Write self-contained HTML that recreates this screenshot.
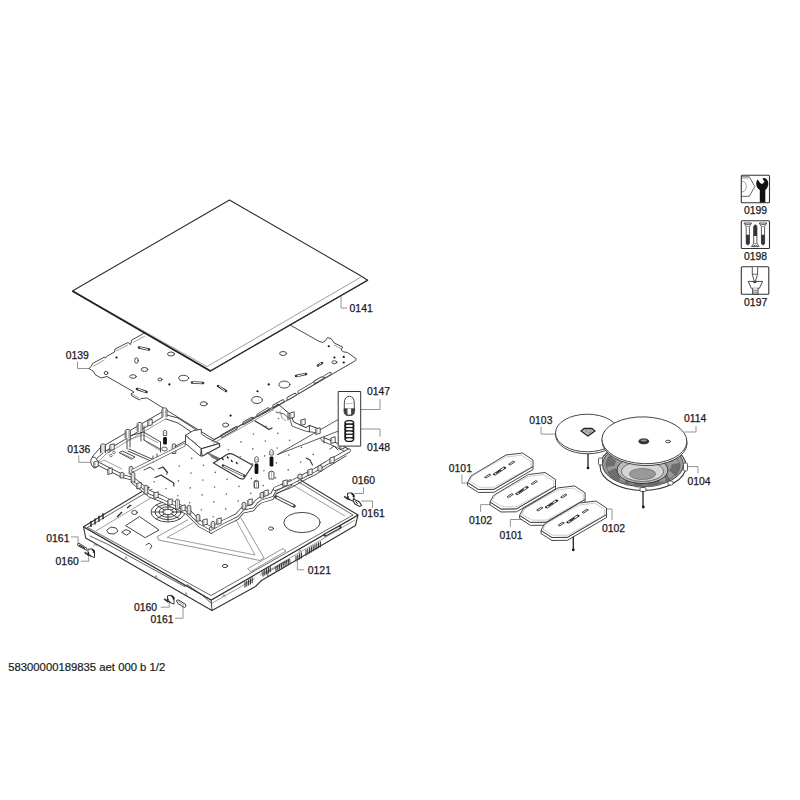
<!DOCTYPE html>
<html><head><meta charset="utf-8"><style>
html,body{margin:0;padding:0;background:#fff;width:800px;height:800px;overflow:hidden}
svg{position:absolute;left:0;top:0}
.lbl text{font-family:"Liberation Sans",sans-serif;font-size:10.4px;fill:#1a1a1a;stroke:#1a1a1a;stroke-width:0.25px}
.foot{font-family:"Liberation Sans",sans-serif;font-size:11.3px;fill:#1a1a1a;stroke:#1a1a1a;stroke-width:0.2px}
.ldr path{fill:none;stroke:#888;stroke-width:0.9}
.ln{fill:none;stroke:#333;stroke-width:0.9;stroke-linejoin:round;stroke-linecap:round}
.lt{fill:none;stroke:#777;stroke-width:0.7;stroke-linejoin:round}
.th{fill:none;stroke:#222;stroke-width:1.3;stroke-linejoin:round}
.fw{fill:#fff;stroke:#333;stroke-width:0.9;stroke-linejoin:round}
.fb{fill:#111;stroke:none}
</style></head><body>
<svg width="800" height="800" viewBox="0 0 800 800">
<g class="lbl"><text x="349.6" y="312.0">0141</text><text x="65.7" y="358.9">0139</text><text x="67.2" y="452.5">0136</text><text x="366.9" y="395.2">0147</text><text x="367.0" y="450.5">0148</text><text x="351.9" y="483.9">0160</text><text x="361.6" y="516.7">0161</text><text x="46.3" y="541.5">0161</text><text x="55.6" y="565.0">0160</text><text x="307.8" y="573.7">0121</text><text x="134.0" y="611.4">0160</text><text x="150.5" y="622.5">0161</text><text x="529.3" y="423.8">0103</text><text x="684.0" y="421.7">0114</text><text x="448.8" y="471.6">0101</text><text x="687.4" y="485.1">0104</text><text x="468.9" y="524.1">0102</text><text x="499.5" y="538.6">0101</text><text x="602.0" y="532.1">0102</text><text x="744.0" y="214.3">0199</text><text x="744.0" y="260.1">0198</text><text x="744.1" y="305.6">0197</text></g>
<text x="8.2" y="670.5" class="foot">58300000189835 aet 000 b 1/2</text>
<g class="ldr"><path class="ln" d="M341.0,297.0 L341.0,308.0 L346.5,308.0" /><path class="ln" d="M77.5,362.0 L77.5,368.5 L89.0,368.5" /><path class="ln" d="M78.8,455.7 L78.8,462.3 L90.0,462.3" /><path class="ln" d="M354.7,409.5 L380.0,409.5 L380.0,399.7" /><path class="ln" d="M354.7,429.0 L380.0,429.0 L380.0,436.3" /><path class="ln" d="M363.5,487.9 L363.5,493.5 L354.7,493.5" /><path class="ln" d="M361.6,501.0 L372.5,501.0 L372.5,507.6" /><path class="ln" d="M71.2,536.9 L78.1,536.9 L78.1,543.7" /><path class="ln" d="M81.2,561.2 L88.7,561.2 L88.7,556.0" /><path class="ln" d="M297.4,561.0 L297.4,569.8 L303.7,569.8" /><path class="ln" d="M161.2,607.2 L169.2,607.2 L169.2,602.5" /><path class="ln" d="M175.5,618.2 L183.0,618.2 L183.0,606.5" /><path class="ln" d="M541.0,427.1 L541.0,434.1 L554.6,434.1" /><path class="ln" d="M685.0,432.0 L696.0,432.0 L696.0,426.4" /><path class="ln" d="M687.0,466.6 L698.0,466.6 L698.0,473.0" /><path class="ln" d="M461.9,474.9 L461.9,483.1 L468.0,483.1" /><path class="ln" d="M489.9,504.6 L480.6,504.6 L480.6,511.6" /><path class="ln" d="M521.4,519.5 L510.4,519.5 L510.4,526.5" /><path class="ln" d="M606.0,509.0 L612.0,509.0 L612.0,519.6" /></g>
<path class="fw" d="M83.5,526.7 L211.2,600.0 L358.0,515.0 L355.5,525.5 L261.5,580.5 L255.5,586.5 L212.0,610.5 L85.7,538.0 Z" style="stroke-width:1.1"/>
<path class="ln" d="M211.2,600.0 L212.0,610.5" />
<path class="fw" d="M83.5,526.7 L231.0,438.0 L358.0,515.0 L211.2,600.0 Z" style="stroke-width:1.1"/>
<path class="ln" d="M87.5,527.5 L232.0,441.5 L353.0,515.0 L211.0,595.5 L87.5,527.5" style="stroke-width:0.75"/>
<path class="lt" d="M96.0,531.0 L232.0,449.0" />
<path class="lt" d="M232.0,449.0 L345.0,516.0" />
<path class="ln" d="M90.0,536.0 L108.0,544.4 L150.0,567.5 L185.0,586.7 L187.0,584.6 L201.6,594.6 L211.5,603.5" style="stroke-width:0.8"/>
<path class="lt" d="M211.5,603.5 L255.0,578.5" />
<path class="lt" d="M262.0,574.5 L355.0,520.0" />
<path class="ln" d="M126.0,525.5 L139.5,516.5 L159.0,530.0 L145.5,537.5 Z" />
<path class="ln" d="M107.0,530.0 L111.0,527.0 L116.0,528.0 L118.0,531.0 L114.0,534.0 L109.0,533.5 Z" />
<path class="ln" d="M122.0,532.0 L126.0,529.5 L131.0,532.0 L127.0,535.0 Z" />
<path class="ln" d="M146.0,545.0 L149.0,543.0 L152.0,546.0 L150.0,549.0" />
<ellipse cx="134.5" cy="512.5" rx="2.8" ry="2" class="ln"/>
<path class="th" d="M117.0,517.0 L122.0,512.0" />
<path class="th" d="M127.0,508.0 L131.0,505.0" />
<ellipse cx="168" cy="512" rx="17" ry="10" class="ln"/>
<ellipse cx="168" cy="512" rx="13" ry="7.6" class="ln"/>
<ellipse cx="168" cy="512" rx="9" ry="5.2" class="ln"/>
<ellipse cx="168" cy="512" rx="5" ry="2.8" class="ln"/>
<path class="ln" d="M172.0,512.0 L184.0,512.0" />
<path class="ln" d="M170.8,513.6 L179.3,518.6" />
<path class="ln" d="M168.0,514.3 L168.0,521.4" />
<path class="ln" d="M165.2,513.6 L156.7,518.6" />
<path class="ln" d="M164.0,512.0 L152.0,512.0" />
<path class="ln" d="M165.2,510.4 L156.7,505.4" />
<path class="ln" d="M168.0,509.7 L168.0,502.6" />
<path class="ln" d="M170.8,510.4 L179.3,505.4" />
<ellipse cx="302" cy="522.5" rx="18.2" ry="10.1" class="ln"/>
<ellipse cx="271" cy="528.5" rx="2.5" ry="1.6" class="ln"/>
<ellipse cx="225" cy="566" rx="2.6" ry="1.6" class="ln"/>
<path class="ln" d="M187.5,520.0 L157.5,536.5 L158.5,540.0 L260.0,560.5 L264.0,558.0 L241.0,518.0" style="stroke-width:0.7;stroke:#666"/>
<path class="lt" d="M193.0,523.0 L167.0,537.5 L255.0,555.0 L236.0,520.0" />
<path class="ln" d="M248.0,568.5 L283.0,548.5 L286.0,551.0 L251.0,571.5 Z" style="stroke-width:0.7;stroke:#666"/>
<path class="ln" d="M276.0,497.0 L294.0,506.0" style="stroke-width:3.5"/>
<path class="ln" d="M277.0,497.5 L293.0,505.5" style="stroke:#fff;stroke-width:1.6"/>
<path class="ln" d="M325.0,535.0 L340.0,527.0" style="stroke-width:3.2"/>
<path class="ln" d="M326.0,534.5 L339.0,527.5" style="stroke:#fff;stroke-width:1.4"/>
<path class="th" d="M91.0,527.0 L91.0,521.0" style="stroke-width:1.4"/>
<path class="th" d="M95.0,524.4 L95.0,518.4" style="stroke-width:1.4"/>
<path class="th" d="M99.0,521.8 L99.0,515.8" style="stroke-width:1.4"/>
<path class="th" d="M103.0,519.2 L103.0,513.2" style="stroke-width:1.4"/>
<path class="ln" d="M245.0,582.0 L245.0,587.0" style="stroke-width:1.1"/>
<path class="ln" d="M246.8,581.0 L246.8,586.0" style="stroke-width:1.1"/>
<path class="ln" d="M248.6,579.9 L248.6,584.9" style="stroke-width:1.1"/>
<path class="ln" d="M250.4,578.9 L250.4,583.9" style="stroke-width:1.1"/>
<path class="ln" d="M252.2,577.8 L252.2,582.8" style="stroke-width:1.1"/>
<path class="ln" d="M263.0,571.0 L263.0,576.0" style="stroke-width:1.1"/>
<path class="ln" d="M264.8,570.0 L264.8,575.0" style="stroke-width:1.1"/>
<path class="ln" d="M266.6,568.9 L266.6,573.9" style="stroke-width:1.1"/>
<path class="ln" d="M268.4,567.9 L268.4,572.9" style="stroke-width:1.1"/>
<path class="ln" d="M270.2,566.8 L270.2,571.8" style="stroke-width:1.1"/>
<path class="ln" d="M276.0,566.5 L276.0,570.5" style="stroke-width:1.1"/>
<path class="ln" d="M277.8,565.5 L277.8,569.5" style="stroke-width:1.1"/>
<path class="ln" d="M279.6,564.4 L279.6,568.4" style="stroke-width:1.1"/>
<path class="ln" d="M281.4,563.4 L281.4,567.4" style="stroke-width:1.1"/>
<path class="ln" d="M283.2,562.3 L283.2,566.3" style="stroke-width:1.1"/>
<path class="ln" d="M285.0,561.3 L285.0,565.3" style="stroke-width:1.1"/>
<path class="ln" d="M286.8,560.3 L286.8,564.3" style="stroke-width:1.1"/>
<path class="ln" d="M288.6,559.2 L288.6,563.2" style="stroke-width:1.1"/>
<path class="ln" d="M296.0,556.0 L296.0,561.0" style="stroke-width:1.1"/>
<path class="ln" d="M297.8,555.0 L297.8,560.0" style="stroke-width:1.1"/>
<path class="ln" d="M299.6,553.9 L299.6,558.9" style="stroke-width:1.1"/>
<path class="ln" d="M301.4,552.9 L301.4,557.9" style="stroke-width:1.1"/>
<path class="ln" d="M306.0,550.0 L306.0,555.0" style="stroke-width:1.1"/>
<path class="ln" d="M307.8,549.0 L307.8,554.0" style="stroke-width:1.1"/>
<path class="ln" d="M309.6,547.9 L309.6,552.9" style="stroke-width:1.1"/>
<path class="ln" d="M311.4,546.9 L311.4,551.9" style="stroke-width:1.1"/>
<path class="ln" d="M313.2,545.8 L313.2,550.8" style="stroke-width:1.1"/>
<path class="ln" d="M315.0,544.8 L315.0,549.8" style="stroke-width:1.1"/>
<path class="ln" d="M316.8,543.8 L316.8,548.8" style="stroke-width:1.1"/>
<path class="ln" d="M318.6,542.7 L318.6,547.7" style="stroke-width:1.1"/>
<path class="ln" d="M320.4,541.7 L320.4,546.7" style="stroke-width:1.1"/>
<path class="ln" d="M268.0,572.0 L290.0,559.5 L290.0,564.0 L268.0,576.5 Z" style="stroke-width:0.7"/>
<path class="lt" d="M93.5,546.5 L95.0,543.5 L96.5,546.5" />
<path class="lt" d="M124.5,559.5 L126.0,556.5 L127.5,559.5" />
<path class="lt" d="M154.5,578.5 L156.0,575.5 L157.5,578.5" />
<path class="lt" d="M184.5,595.5 L186.0,592.5 L187.5,595.5" />
<path class="lt" d="M222.5,597.5 L224.0,594.5 L225.5,597.5" />
<path class="lt" d="M260.5,575.5 L262.0,572.5 L263.5,575.5" />
<path class="lt" d="M298.5,552.5 L300.0,549.5 L301.5,552.5" />
<path class="lt" d="M336.5,531.5 L338.0,528.5 L339.5,531.5" />
<path class="ln" d="M90.5,460.0 L163.0,417.0 L200.0,438.0 L202.5,447.5 L278.0,406.0 L348.0,450.0 L324.0,462.0 L312.0,476.0 L290.0,484.0 L256.0,504.0 L240.0,514.0 L213.0,528.0 L204.0,523.0 L187.5,509.0 L165.0,497.0 L135.0,477.5 L123.0,476.0 L97.0,465.0 Z" style="fill:#fff;stroke:none"/>
<path class="fw" d="M89.0,368.5 L91.5,366.0 L92.5,363.5 L104.5,357.0 L105.5,358.3 L106.5,356.5 L114.5,352.0 L115.0,349.0 L128.0,342.5 L130.5,344.6 L131.8,340.0 L143.5,333.5 L230.0,280.0 L291.2,325.6 L318.8,341.2 L322.5,342.5 L325.6,340.6 L327.5,337.5 L331.2,338.8 L334.4,343.1 L342.5,346.9 L341.2,350.0 L343.8,351.9 L347.5,352.5 L356.2,358.8 L355.6,360.6 L272.5,408.8 L214.0,439.5 L147.0,398.0 L141.0,398.5 L139.5,400.0 L132.0,396.0 L131.0,394.0 L134.0,392.0 L107.0,376.5 L101.0,378.0 L95.0,374.5 L94.0,372.0 Z" />
<path class="lt" d="M93.5,366.0 L104.5,360.0" />
<path class="lt" d="M116.0,351.0 L128.0,345.0" />
<path class="lt" d="M133.0,342.5 L145.0,336.0" />
<path class="lt" d="M353.0,362.0 L272.0,409.5" />
<path class="lt" d="M334.0,345.0 L342.0,349.0" />
<path class="ln" d="M299,392 L314,383" style="stroke-width:3.2;stroke:#333"/>
<path d="M299,392 L314,383" style="stroke-width:1.6;stroke:#fff;stroke-linecap:round"/>
<path class="ln" d="M315,382 L322,378" style="stroke-width:3.2;stroke:#333"/>
<path d="M315,382 L322,378" style="stroke-width:1.6;stroke:#fff;stroke-linecap:round"/>
<path class="ln" d="M325,376.5 L330,373.5" style="stroke-width:3.2;stroke:#333"/>
<path d="M325,376.5 L330,373.5" style="stroke-width:1.6;stroke:#fff;stroke-linecap:round"/>
<path class="ln" d="M288,398.5 L295,394.5" style="stroke-width:3.2;stroke:#333"/>
<path d="M288,398.5 L295,394.5" style="stroke-width:1.6;stroke:#fff;stroke-linecap:round"/>
<path class="ln" d="M274,406 L283,401" style="stroke-width:3.2;stroke:#333"/>
<path d="M274,406 L283,401" style="stroke-width:1.6;stroke:#fff;stroke-linecap:round"/>
<path class="ln" d="M258,415 L268,409" style="stroke-width:3.2;stroke:#333"/>
<path d="M258,415 L268,409" style="stroke-width:1.6;stroke:#fff;stroke-linecap:round"/>
<path class="ln" d="M244,423 L252,418.5" style="stroke-width:3.2;stroke:#333"/>
<path d="M244,423 L252,418.5" style="stroke-width:1.6;stroke:#fff;stroke-linecap:round"/>
<path class="ln" d="M222,436 L236,428" style="stroke-width:3.2;stroke:#333"/>
<path d="M222,436 L236,428" style="stroke-width:1.6;stroke:#fff;stroke-linecap:round"/>
<path class="lt" d="M132.0,394.0 L139.5,398.5" />
<ellipse cx="106" cy="373" rx="1.8" ry="1.6" class="ln"/>
<ellipse cx="133" cy="376.5" rx="3.3" ry="1.8" class="ln"/>
<ellipse cx="144.5" cy="369.5" rx="3.3" ry="2" class="ln"/>
<ellipse cx="136.5" cy="360.5" rx="1.8" ry="2.8" class="ln"/>
<ellipse cx="160" cy="379.5" rx="2" ry="1.5" class="ln"/>
<ellipse cx="171" cy="354" rx="3.5" ry="2" class="ln"/>
<ellipse cx="183.75" cy="378.1" rx="5" ry="2.8" class="ln"/>
<ellipse cx="203.75" cy="403.75" rx="3.5" ry="2" class="ln"/>
<ellipse cx="225.6" cy="425" rx="3" ry="2" class="ln"/>
<ellipse cx="257" cy="400" rx="5.5" ry="3.5" class="ln"/>
<ellipse cx="283.1" cy="353.5" rx="3.5" ry="2" class="ln"/>
<ellipse cx="284.4" cy="384.6" rx="5.5" ry="3.5" class="ln"/>
<ellipse cx="334.4" cy="362.25" rx="2.5" ry="1.5" class="ln"/>
<path class="ln" d="M139,347.5 L149,349.5" style="stroke-width:2.6"/>
<path d="M140,347.5 L148,349.5" style="stroke-width:1;stroke:#fff"/>
<path class="ln" d="M192,382.5 L203,383" style="stroke-width:2.6"/>
<path d="M193,382.5 L202,383" style="stroke-width:1;stroke:#fff"/>
<path class="ln" d="M218,386 L226,391" style="stroke-width:2.6"/>
<path d="M219,386 L225,391" style="stroke-width:1;stroke:#fff"/>
<path class="ln" d="M137,389 L146.5,392" style="stroke-width:2.6"/>
<path d="M138,389 L145.5,392" style="stroke-width:1;stroke:#fff"/>
<path class="ln" d="M296,376 L306,374" style="stroke-width:2.6"/>
<path d="M297,376 L305,374" style="stroke-width:1;stroke:#fff"/>
<path class="ln" d="M318,365.5 L322,363" style="stroke-width:2.6"/>
<path d="M319,365.5 L321,363" style="stroke-width:1;stroke:#fff"/>
<circle cx="116.5" cy="357.5" r="1.1" class="fb"/>
<circle cx="169.4" cy="384.4" r="1.1" class="fb"/>
<circle cx="230.6" cy="415.6" r="1.1" class="fb"/>
<circle cx="257.5" cy="391.25" r="1.1" class="fb"/>
<circle cx="268.75" cy="384.4" r="1.1" class="fb"/>
<circle cx="334.4" cy="357.5" r="1.1" class="fb"/>
<circle cx="343.75" cy="356.9" r="1.1" class="fb"/>
<circle cx="343.75" cy="362.5" r="1.1" class="fb"/>
<circle cx="328.75" cy="346.25" r="1.1" class="fb"/>
<path class="ln" d="M92.0,457.0 L100.0,448.0 L164.5,410.5" />
<path class="ln" d="M95.0,460.0 L104.5,451.7 L166.0,415.0" />
<path class="lt" d="M98.0,462.0 L106.0,454.0 L167.0,418.0" />
<path class="ln" d="M163.0,414.0 L178.0,418.0 L192.0,427.0 L200.0,433.0" />
<path class="ln" d="M166.0,419.0 L178.0,423.0 L197.0,436.0" />
<path class="ln" d="M126.0,437.0 L143.5,432.0 L160.5,442.0" />
<path class="lt" d="M128.0,440.0 L143.5,435.0 L158.0,443.0" />
<path class="ln" d="M127.0,433.0 L127.0,449.0" />
<path class="ln" d="M130.0,431.0 L130.0,447.0" />
<path class="ln" d="M141.0,428.0 L141.0,441.0" />
<path class="ln" d="M144.0,426.0 L144.0,440.0" />
<path class="ln" d="M129.0,449.0 L154.0,460.0" />
<path class="ln" d="M128.0,451.0 L153.0,462.0" />
<path class="ln" d="M144.0,440.0 L160.0,449.0" />
<path class="lt" d="M146.0,442.0 L160.0,450.5" />
<path class="ln" d="M160.5,442.0 L160.5,452.0" />
<path class="ln" d="M153.0,456.0 L153.0,462.0" />
<path class="ln" d="M157.0,454.0 L157.0,460.0" />
<path d="M93.0,461.0 L122.5,476.0 L133.0,479.0" fill="none" stroke="#3a3a3a" stroke-width="3.70" stroke-linejoin="round" stroke-linecap="round"/><path d="M93.0,461.0 L122.5,476.0 L133.0,479.0" fill="none" stroke="#fff" stroke-width="2.20" stroke-linejoin="round" stroke-linecap="round"/>
<path d="M91,459 Q90,465 94,468 Q98,468 98,463 Q97,457 93,457 Z" fill="#fff" stroke="#333" stroke-width="0.9"/>
<path class="lt" d="M98.0,463.0 L104.0,460.0 L122.0,469.0" />
<path class="ln" d="M119.5,452.5 L122.5,451.0 L135.0,457.0 L132.0,459.0 Z" />
<path class="lt" d="M121.5,453.0 L132.0,458.0" />
<circle cx="109" cy="451" r="1.3" fill="none" stroke="#444" stroke-width="0.7"/>
<circle cx="111" cy="455.5" r="1.3" fill="none" stroke="#444" stroke-width="0.7"/>
<circle cx="114" cy="452.5" r="1.3" fill="none" stroke="#444" stroke-width="0.7"/>
<path d="M100.5,453.0 L100.5,445.0 L101.7,444.0 L104.3,444.0 L105.5,445.0 L105.5,453.0" fill="#fff" stroke="#333" stroke-width="0.85"/><path d="M101.8,445.2 L101.8,453.0 M104.2,445.2 L104.2,453.0" stroke="#555" stroke-width="0.6"/>
<path d="M125.2,438.5 L125.2,430.5 L126.4,429.5 L129.0,429.5 L130.2,430.5 L130.2,438.5" fill="#fff" stroke="#333" stroke-width="0.85"/><path d="M126.5,430.7 L126.5,438.5 M128.9,430.7 L128.9,438.5" stroke="#555" stroke-width="0.6"/>
<path d="M137.2,431.5 L137.2,423.5 L138.4,422.5 L141.0,422.5 L142.2,423.5 L142.2,431.5" fill="#fff" stroke="#333" stroke-width="0.85"/><path d="M138.5,423.7 L138.5,431.5 M140.9,423.7 L140.9,431.5" stroke="#555" stroke-width="0.6"/>
<path d="M162.0,417.0 L162.0,409.0 L163.2,408.0 L165.8,408.0 L167.0,409.0 L167.0,417.0" fill="#fff" stroke="#333" stroke-width="0.85"/><path d="M163.3,409.2 L163.3,417.0 M165.7,409.2 L165.7,417.0" stroke="#555" stroke-width="0.6"/>
<path d="M172.2,453.5 L172.2,444.7 Q174.0,442.5 175.8,444.7 L175.8,453.5 Z" fill="#fff" stroke="#333" stroke-width="0.85"/><path d="M174.0,444.0 L174.0,453.0" stroke="#777" stroke-width="0.5"/>
<path d="M120.2,478.0 L120.2,473.2 Q122.0,471.0 123.8,473.2 L123.8,478.0 Z" fill="#fff" stroke="#333" stroke-width="0.85"/><path d="M122.0,472.5 L122.0,477.5" stroke="#777" stroke-width="0.5"/>
<path d="M129.2,474.0 L129.2,467.2 Q131.0,465.0 132.8,467.2 L132.8,474.0 Z" fill="#fff" stroke="#333" stroke-width="0.85"/><path d="M131.0,466.5 L131.0,473.5" stroke="#777" stroke-width="0.5"/>
<ellipse cx="164.5" cy="449" rx="2.8" ry="2" fill="#fff" stroke="#333" stroke-width="0.8"/>
<path class="fw" d="M185.5,435.3 L193.0,430.8 L201.3,429.2 L201.3,433.8 L206.5,437.5 L212.5,440.5 L219.5,443.5 L201.3,448.8 Z" style="stroke-width:0.9"/>
<path class="fw" d="M185.5,435.3 L185.5,443.5 L200.5,456.2 L201.3,448.8 Z" style="stroke-width:0.9"/>
<path class="fw" d="M201.3,448.8 L219.2,443.5 L220.0,446.5 L202.0,456.2 Z" style="stroke-width:1.1"/>
<path class="lt" d="M188.0,438.0 L197.0,444.0" />
<path class="ln" d="M175.0,446.5 L185.5,441.0" />
<path class="lt" d="M176.0,449.0 L185.5,444.0" />
<path class="ln" d="M207.0,452.5 L226.0,461.5" style="stroke-width:0.7"/>
<path class="ln" d="M208.6,454.1 L227.6,463.1" style="stroke-width:0.7"/>
<path class="ln" d="M210.2,455.7 L229.2,464.7" style="stroke-width:0.7"/>
<path class="ln" d="M211.8,457.3 L230.8,466.3" style="stroke-width:0.7"/>
<path d="M133.0,482.0 L143.8,490.5 L150.0,495.5 L162.5,500.5 L177.5,508.0 L187.5,513.0 L195.0,520.5 L200.0,525.5 L211.2,531.5" fill="none" stroke="#3a3a3a" stroke-width="4.10" stroke-linejoin="round" stroke-linecap="round"/><path d="M133.0,482.0 L143.8,490.5 L150.0,495.5 L162.5,500.5 L177.5,508.0 L187.5,513.0 L195.0,520.5 L200.0,525.5 L211.2,531.5" fill="none" stroke="#fff" stroke-width="2.60" stroke-linejoin="round" stroke-linecap="round"/><path d="M133.0,479.0 L143.8,487.5 L150.0,492.5 L162.5,497.5 L177.5,505.0 L187.5,510.0 L195.0,517.5 L200.0,522.5 L211.2,528.5" fill="none" stroke="#3a3a3a" stroke-width="4.10" stroke-linejoin="round" stroke-linecap="round"/><path d="M133.0,479.0 L143.8,487.5 L150.0,492.5 L162.5,497.5 L177.5,505.0 L187.5,510.0 L195.0,517.5 L200.0,522.5 L211.2,528.5" fill="none" stroke="#fff" stroke-width="2.60" stroke-linejoin="round" stroke-linecap="round"/>
<path d="M211.2,531.5 L223.0,525.0 L237.0,518.2 L242.8,511.5 L252.9,509.2 L256.2,504.8 L260.8,501.4 L272.0,498.0 L274.2,493.5 L290.0,484.5" fill="none" stroke="#3a3a3a" stroke-width="4.10" stroke-linejoin="round" stroke-linecap="round"/><path d="M211.2,531.5 L223.0,525.0 L237.0,518.2 L242.8,511.5 L252.9,509.2 L256.2,504.8 L260.8,501.4 L272.0,498.0 L274.2,493.5 L290.0,484.5" fill="none" stroke="#fff" stroke-width="2.60" stroke-linejoin="round" stroke-linecap="round"/><path d="M211.2,528.5 L223.0,522.0 L237.0,515.2 L242.8,508.5 L252.9,506.2 L256.2,501.8 L260.8,498.4 L272.0,495.0 L274.2,490.5 L290.0,481.5" fill="none" stroke="#3a3a3a" stroke-width="4.10" stroke-linejoin="round" stroke-linecap="round"/><path d="M211.2,528.5 L223.0,522.0 L237.0,515.2 L242.8,508.5 L252.9,506.2 L256.2,501.8 L260.8,498.4 L272.0,495.0 L274.2,490.5 L290.0,481.5" fill="none" stroke="#fff" stroke-width="2.60" stroke-linejoin="round" stroke-linecap="round"/>
<path d="M133.0,470.5 L160.0,457.0 L184.0,445.0" fill="none" stroke="#3a3a3a" stroke-width="3.40" stroke-linejoin="round" stroke-linecap="round"/><path d="M133.0,470.5 L160.0,457.0 L184.0,445.0" fill="none" stroke="#fff" stroke-width="2.00" stroke-linejoin="round" stroke-linecap="round"/>
<path d="M131.2,482.0 L131.2,473.2 Q133.0,471.0 134.8,473.2 L134.8,482.0 Z" fill="#fff" stroke="#333" stroke-width="0.85"/><path d="M133.0,472.5 L133.0,481.5" stroke="#777" stroke-width="0.5"/>
<path d="M144.2,494.0 L144.2,486.2 Q146.0,484.0 147.8,486.2 L147.8,494.0 Z" fill="#fff" stroke="#333" stroke-width="0.85"/><path d="M146.0,485.5 L146.0,493.5" stroke="#777" stroke-width="0.5"/>
<path d="M175.7,509.0 L175.7,500.2 Q177.5,498.0 179.3,500.2 L179.3,509.0 Z" fill="#fff" stroke="#333" stroke-width="0.85"/><path d="M177.5,499.5 L177.5,508.5" stroke="#777" stroke-width="0.5"/>
<path d="M187.2,514.0 L187.2,506.2 Q189.0,504.0 190.8,506.2 L190.8,514.0 Z" fill="#fff" stroke="#333" stroke-width="0.85"/><path d="M189.0,505.5 L189.0,513.5" stroke="#777" stroke-width="0.5"/>
<path d="M196.2,521.0 L196.2,515.2 Q198.0,513.0 199.8,515.2 L199.8,521.0 Z" fill="#fff" stroke="#333" stroke-width="0.85"/><path d="M198.0,514.5 L198.0,520.5" stroke="#777" stroke-width="0.5"/>
<path d="M211.2,528.0 L211.2,522.2 Q213.0,520.0 214.8,522.2 L214.8,528.0 Z" fill="#fff" stroke="#333" stroke-width="0.85"/><path d="M213.0,521.5 L213.0,527.5" stroke="#777" stroke-width="0.5"/>
<path d="M242.2,509.0 L242.2,503.2 Q244.0,501.0 245.8,503.2 L245.8,509.0 Z" fill="#fff" stroke="#333" stroke-width="0.85"/><path d="M244.0,502.5 L244.0,508.5" stroke="#777" stroke-width="0.5"/>
<path d="M260.2,498.0 L260.2,493.2 Q262.0,491.0 263.8,493.2 L263.8,498.0 Z" fill="#fff" stroke="#333" stroke-width="0.85"/><path d="M262.0,492.5 L262.0,497.5" stroke="#777" stroke-width="0.5"/>
<path class="ln" d="M155.0,477.5 L161.0,475.0 L173.8,483.0 L173.8,486.0" style="stroke-width:1.2"/>
<path class="ln" d="M158.8,468.8 L163.0,467.0 L167.5,472.5" style="stroke-width:1.2"/>
<path class="ln" d="M144.0,470.0 L150.0,467.0 L154.0,470.0" />
<path class="ln" d="M211.8,441.2 L273.0,407.0" />
<path class="lt" d="M213.0,443.5 L274.0,409.5" />
<path class="ln" d="M273.0,408.0 L278.0,404.0 L285.0,410.0 L291.0,415.0 L293.6,422.0 L306.0,427.6 L309.4,425.4 L318.4,428.7 L324.0,437.7 L337.5,443.4 L348.7,449.0" style="stroke-width:1"/>
<path class="ln" d="M276.0,412.0 L284.0,414.0 L290.0,419.0 L292.0,426.0 L305.0,431.0 L318.0,433.0 L322.0,441.0 L336.0,447.0 L346.0,452.0" style="stroke-width:0.8"/>
<path class="ln" d="M288.0,413.0 L288.0,420.0" />
<path class="ln" d="M309.4,425.4 L309.4,432.0" />
<path class="ln" d="M324.0,437.7 L324.0,443.0" />
<path class="lt" d="M280.0,411.0 L282.0,418.0 L286.0,421.0" />
<path class="ln" d="M255.0,421.0 L262.0,425.0 L269.0,429.5 L272.0,428.0" style="stroke-width:1.3"/>
<path d="M348.8,450.6 L327.5,462.5 L315.0,470.0 L307.5,473.8 L291.2,482.5 L275.0,488.8" fill="none" stroke="#3a3a3a" stroke-width="4.10" stroke-linejoin="round" stroke-linecap="round"/><path d="M348.8,450.6 L327.5,462.5 L315.0,470.0 L307.5,473.8 L291.2,482.5 L275.0,488.8" fill="none" stroke="#fff" stroke-width="2.60" stroke-linejoin="round" stroke-linecap="round"/>
<path class="ln" d="M346.0,456.0 L327.5,467.0 L315.0,475.0 L307.5,478.5 L291.2,487.5 L276.0,493.5" style="stroke-width:0.9"/>
<path d="M318.0,471.0 L318.0,466.2 Q320.0,464.0 322.0,466.2 L322.0,471.0 Z" fill="#fff" stroke="#333" stroke-width="0.85"/><path d="M320.0,465.5 L320.0,470.5" stroke="#777" stroke-width="0.5"/>
<path d="M298.0,478.8 L298.0,474.9 Q300.0,472.8 302.0,474.9 L302.0,478.8 Z" fill="#fff" stroke="#333" stroke-width="0.85"/><path d="M300.0,474.2 L300.0,478.2" stroke="#777" stroke-width="0.5"/>
<path d="M269.2,477.2 L269.2,472.4 Q271.2,470.2 273.2,472.4 L273.2,477.2 Z" fill="#fff" stroke="#333" stroke-width="0.85"/><path d="M271.2,471.8 L271.2,476.8" stroke="#777" stroke-width="0.5"/>
<path d="M254.2,487.0 L254.2,481.2 Q256.2,479.0 258.2,481.2 L258.2,487.0 Z" fill="#fff" stroke="#333" stroke-width="0.85"/><path d="M256.2,480.5 L256.2,486.5" stroke="#777" stroke-width="0.5"/>
<path class="ln" d="M306.2,458.0 L310.0,460.0 L312.5,465.0" style="stroke-width:1.1"/>
<path class="ln" d="M330.0,449.0 L334.0,446.0 L338.0,450.0" />
<path d="M213.4,463 L227,454.5 Q230,452.8 233,454.3 L252.7,465.2 L244,478.4 Q242,479.5 239.5,478.2 Z" fill="#fff" stroke="#333" stroke-width="1.1"/>
<path class="ln" d="M223.0,465.7 L244.0,475.7" style="stroke-width:2.6"/>
<path class="ln" d="M224.0,466.2 L243.0,475.2" style="stroke:#fff;stroke-width:1.1"/>
<path class="th" d="M222.0,458.0 L223.5,460.0" />
<path class="th" d="M227.0,456.5 L228.5,458.5" />
<path class="th" d="M231.0,460.0 L232.5,462.0" />
<path class="th" d="M236.0,462.0 L237.5,464.0" />
<circle cx="154.2" cy="481.8" r="0.8" fill="#666"/>
<circle cx="166.0" cy="488.8" r="0.8" fill="#666"/>
<circle cx="177.8" cy="495.8" r="0.8" fill="#666"/>
<circle cx="189.6" cy="502.8" r="0.8" fill="#666"/>
<circle cx="201.4" cy="509.8" r="0.8" fill="#666"/>
<circle cx="213.2" cy="516.8" r="0.8" fill="#666"/>
<circle cx="166.7" cy="473.9" r="0.8" fill="#666"/>
<circle cx="178.5" cy="480.9" r="0.8" fill="#666"/>
<circle cx="190.3" cy="487.9" r="0.8" fill="#666"/>
<circle cx="202.1" cy="494.9" r="0.8" fill="#666"/>
<circle cx="213.9" cy="501.9" r="0.8" fill="#666"/>
<circle cx="225.7" cy="508.9" r="0.8" fill="#666"/>
<circle cx="179.2" cy="466.1" r="0.8" fill="#666"/>
<circle cx="191.0" cy="473.1" r="0.8" fill="#666"/>
<circle cx="202.8" cy="480.1" r="0.8" fill="#666"/>
<circle cx="214.6" cy="487.1" r="0.8" fill="#666"/>
<circle cx="226.4" cy="494.1" r="0.8" fill="#666"/>
<circle cx="238.2" cy="501.1" r="0.8" fill="#666"/>
<circle cx="191.7" cy="458.4" r="0.8" fill="#666"/>
<circle cx="203.5" cy="465.4" r="0.8" fill="#666"/>
<circle cx="215.3" cy="472.4" r="0.8" fill="#666"/>
<circle cx="227.1" cy="479.4" r="0.8" fill="#666"/>
<circle cx="238.9" cy="486.4" r="0.8" fill="#666"/>
<circle cx="250.7" cy="493.4" r="0.8" fill="#666"/>
<circle cx="216.0" cy="457.6" r="0.8" fill="#666"/>
<circle cx="251.4" cy="478.6" r="0.8" fill="#666"/>
<circle cx="263.2" cy="485.6" r="0.8" fill="#666"/>
<circle cx="228.5" cy="449.8" r="0.8" fill="#666"/>
<circle cx="240.3" cy="456.8" r="0.8" fill="#666"/>
<circle cx="252.1" cy="463.8" r="0.8" fill="#666"/>
<circle cx="263.9" cy="470.8" r="0.8" fill="#666"/>
<circle cx="275.7" cy="477.8" r="0.8" fill="#666"/>
<circle cx="241.0" cy="441.9" r="0.8" fill="#666"/>
<circle cx="252.8" cy="448.9" r="0.8" fill="#666"/>
<circle cx="264.6" cy="455.9" r="0.8" fill="#666"/>
<circle cx="276.4" cy="462.9" r="0.8" fill="#666"/>
<circle cx="288.2" cy="469.9" r="0.8" fill="#666"/>
<circle cx="253.5" cy="434.1" r="0.8" fill="#666"/>
<circle cx="265.3" cy="441.1" r="0.8" fill="#666"/>
<circle cx="277.1" cy="448.1" r="0.8" fill="#666"/>
<circle cx="288.9" cy="455.1" r="0.8" fill="#666"/>
<circle cx="300.7" cy="462.1" r="0.8" fill="#666"/>
<circle cx="266.0" cy="426.4" r="0.8" fill="#666"/>
<circle cx="277.8" cy="433.4" r="0.8" fill="#666"/>
<circle cx="289.6" cy="440.4" r="0.8" fill="#666"/>
<circle cx="301.4" cy="447.4" r="0.8" fill="#666"/>
<circle cx="313.2" cy="454.4" r="0.8" fill="#666"/>
<circle cx="278.5" cy="418.6" r="0.8" fill="#666"/>
<path class="fw" d="M163.3,435.5 L163.3,431.3 Q165,428.7 166.7,431.3 L166.7,435.5 Z" style="stroke-width:0.8"/><path d="M164,433.0 L166,433.0" stroke="#888" stroke-width="0.5"/><rect x="163.1" y="437.0" width="3.8" height="7.5" rx="1.3" fill="#111"/>
<path class="fw" d="M254.8,462 L254.8,457.8 Q256.5,455.2 258.2,457.8 L258.2,462 Z" style="stroke-width:0.8"/><path d="M255.5,459.5 L257.5,459.5" stroke="#888" stroke-width="0.5"/><rect x="254.6" y="463.5" width="3.8" height="10.5" rx="1.3" fill="#111"/>
<path class="fw" d="M269.8,455 L269.8,450.8 Q271.5,448.2 273.2,450.8 L273.2,455 Z" style="stroke-width:0.8"/><path d="M270.5,452.5 L272.5,452.5" stroke="#888" stroke-width="0.5"/><rect x="269.6" y="456.5" width="3.8" height="10.0" rx="1.3" fill="#111"/>
<path d="M254.4,488.0 L254.4,482.2 Q256.5,480.0 258.6,482.2 L258.6,488.0 Z" fill="#fff" stroke="#333" stroke-width="0.85"/><path d="M256.5,481.5 L256.5,487.5" stroke="#777" stroke-width="0.5"/>
<path d="M269.0,479.0 L269.0,472.2 Q271.5,470.0 274.0,472.2 L274.0,479.0 Z" fill="#fff" stroke="#333" stroke-width="0.85"/><path d="M271.5,471.5 L271.5,478.5" stroke="#777" stroke-width="0.5"/>
<path class="fw" d="M338.6,419.2 L277.3,454.6 L338.6,431.0" style="stroke-width:0.8"/>
<path d="M109.8,445.0 L114.2,443.8 L114.2,449.3 L109.8,450.5 Z" fill="#fff" stroke="#333" stroke-width="0.85"/><path d="M111.0,445.8 L111.0,450.0" stroke="#666" stroke-width="0.6"/>
<path d="M147.8,420.5 L152.2,419.3 L152.2,424.8 L147.8,426.0 Z" fill="#fff" stroke="#333" stroke-width="0.85"/><path d="M148.9,421.3 L148.9,425.5" stroke="#666" stroke-width="0.6"/>
<path d="M93.8,462.0 L98.2,460.8 L98.2,466.3 L93.8,467.5 Z" fill="#fff" stroke="#333" stroke-width="0.85"/><path d="M95.0,462.8 L95.0,467.0" stroke="#666" stroke-width="0.6"/>
<path d="M107.8,469.0 L112.2,467.8 L112.2,473.3 L107.8,474.5 Z" fill="#fff" stroke="#333" stroke-width="0.85"/><path d="M109.0,469.8 L109.0,474.0" stroke="#666" stroke-width="0.6"/>
<path d="M136.8,483.5 L141.2,482.3 L141.2,487.8 L136.8,489.0 Z" fill="#fff" stroke="#333" stroke-width="0.85"/><path d="M137.9,484.3 L137.9,488.5" stroke="#666" stroke-width="0.6"/>
<path d="M153.8,493.0 L158.2,491.8 L158.2,497.3 L153.8,498.5 Z" fill="#fff" stroke="#333" stroke-width="0.85"/><path d="M154.9,493.8 L154.9,498.0" stroke="#666" stroke-width="0.6"/>
<path d="M167.8,500.0 L172.2,498.8 L172.2,504.3 L167.8,505.5 Z" fill="#fff" stroke="#333" stroke-width="0.85"/><path d="M168.9,500.8 L168.9,505.0" stroke="#666" stroke-width="0.6"/>
<path d="M180.8,506.0 L185.2,504.8 L185.2,510.3 L180.8,511.5 Z" fill="#fff" stroke="#333" stroke-width="0.85"/><path d="M181.9,506.8 L181.9,511.0" stroke="#666" stroke-width="0.6"/>
<path d="M202.8,520.0 L207.2,518.8 L207.2,524.3 L202.8,525.5 Z" fill="#fff" stroke="#333" stroke-width="0.85"/><path d="M203.9,520.8 L203.9,525.0" stroke="#666" stroke-width="0.6"/>
<path d="M216.8,519.0 L221.2,517.8 L221.2,523.3 L216.8,524.5 Z" fill="#fff" stroke="#333" stroke-width="0.85"/><path d="M217.9,519.8 L217.9,524.0" stroke="#666" stroke-width="0.6"/>
<path d="M247.8,500.0 L252.2,498.8 L252.2,504.3 L247.8,505.5 Z" fill="#fff" stroke="#333" stroke-width="0.85"/><path d="M248.9,500.8 L248.9,505.0" stroke="#666" stroke-width="0.6"/>
<path d="M263.8,491.0 L268.2,489.8 L268.2,495.3 L263.8,496.5 Z" fill="#fff" stroke="#333" stroke-width="0.85"/><path d="M264.9,491.8 L264.9,496.0" stroke="#666" stroke-width="0.6"/>
<path d="M289.8,413.0 L294.2,411.8 L294.2,417.3 L289.8,418.5 Z" fill="#fff" stroke="#333" stroke-width="0.85"/><path d="M290.9,413.8 L290.9,418.0" stroke="#666" stroke-width="0.6"/>
<path d="M300.8,420.0 L305.2,418.8 L305.2,424.3 L300.8,425.5 Z" fill="#fff" stroke="#333" stroke-width="0.85"/><path d="M301.9,420.8 L301.9,425.0" stroke="#666" stroke-width="0.6"/>
<path d="M315.8,429.0 L320.2,427.8 L320.2,433.3 L315.8,434.5 Z" fill="#fff" stroke="#333" stroke-width="0.85"/><path d="M316.9,429.8 L316.9,434.0" stroke="#666" stroke-width="0.6"/>
<path d="M330.8,438.0 L335.2,436.8 L335.2,442.3 L330.8,443.5 Z" fill="#fff" stroke="#333" stroke-width="0.85"/><path d="M331.9,438.8 L331.9,443.0" stroke="#666" stroke-width="0.6"/>
<path d="M339.8,444.0 L344.2,442.8 L344.2,448.3 L339.8,449.5 Z" fill="#fff" stroke="#333" stroke-width="0.85"/><path d="M340.9,444.8 L340.9,449.0" stroke="#666" stroke-width="0.6"/>
<path d="M329.8,458.0 L334.2,456.8 L334.2,462.3 L329.8,463.5 Z" fill="#fff" stroke="#333" stroke-width="0.85"/><path d="M330.9,458.8 L330.9,463.0" stroke="#666" stroke-width="0.6"/>
<path d="M307.8,470.0 L312.2,468.8 L312.2,474.3 L307.8,475.5 Z" fill="#fff" stroke="#333" stroke-width="0.85"/><path d="M308.9,470.8 L308.9,475.0" stroke="#666" stroke-width="0.6"/>
<path d="M282.8,481.0 L287.2,479.8 L287.2,485.3 L282.8,486.5 Z" fill="#fff" stroke="#333" stroke-width="0.85"/><path d="M283.9,481.8 L283.9,486.0" stroke="#666" stroke-width="0.6"/>
<path class="fw" d="M72.4,291.0 L210.4,371.0 L367.6,280.2 L362.0,276.5 L229.5,200.0 L72.4,291.0" style="stroke-width:1.05;stroke:#2a2a2a"/>
<path class="lt" d="M72.4,291.0 L207.0,366.6 L362.0,276.5" />
<path class="th" d="M72.4,291.0 L210.4,371.0" style="stroke-width:1.5"/>
<path class="ln" d="M210.4,371.0 L367.6,280.2" style="stroke-width:1.2"/>
<rect x="741.3" y="175.3" width="28.2" height="27.5" rx="1" class="ln" style="stroke-width:1.1"/>
<rect x="741.3" y="220.8" width="28.2" height="27.7" rx="1" class="ln" style="stroke-width:1.1"/>
<rect x="741.3" y="266.7" width="27.5" height="27.5" rx="1" class="ln" style="stroke-width:1.1"/>
<path class="fw" d="M467.5,482.5 L467.5,485.5 L478.5,492.5 L494.0,492.3 L533.0,469.5 L533.0,466.5 L494.0,489.3 L478.5,489.5 Z" /><path class="fw" d="M467.5,482.5 L471.0,476.0 L506.0,455.0 L522.5,453.0 L533.0,460.0 L533.0,466.5 L494.0,489.3 L478.5,489.5 Z" /><path class="lt" d="M469.5,481.2 L472.8,475.5 L505.7,457.0 L521.2,455.2 L531.1,461.4 L531.1,467.1 L494.4,487.2 L479.8,487.3 Z" style="stroke:#aaa;stroke-width:0.6"/><path class="fw" d="M484.6,477.3 L489.2,474.2 L490.8,474.9 L486.2,478.0 Z" /><path class="fw" d="M508.6,464.3 L513.2,461.2 L514.8,461.9 L510.2,465.0 Z" /><path class="fw" d="M493.1,474.2 L503.9,466.9 L506.1,467.8 L495.3,475.1 Z" /><path class="fb" d="M495.5,472.9 L500.5,469.6 L501.7,470.1 L496.7,473.4 Z" /><circle cx="504.6" cy="467.8" r="0.9" class="fb"/><circle cx="494.1" cy="474.5" r="0.8" class="fb"/>
<path class="fw" d="M490.0,502.0 L490.0,505.0 L501.0,512.0 L516.5,511.8 L555.5,489.0 L555.5,486.0 L516.5,508.8 L501.0,509.0 Z" /><path class="fw" d="M490.0,502.0 L493.5,495.5 L528.5,474.5 L545.0,472.5 L555.5,479.5 L555.5,486.0 L516.5,508.8 L501.0,509.0 Z" /><path class="lt" d="M492.0,500.7 L495.3,495.0 L528.2,476.5 L543.7,474.7 L553.6,480.9 L553.6,486.6 L516.9,506.7 L502.3,506.8 Z" style="stroke:#aaa;stroke-width:0.6"/><path class="fw" d="M507.1,496.8 L511.7,493.7 L513.3,494.4 L508.7,497.5 Z" /><path class="fw" d="M531.1,483.8 L535.7,480.7 L537.3,481.4 L532.7,484.5 Z" /><path class="fw" d="M515.6,493.7 L526.4,486.4 L528.6,487.3 L517.8,494.6 Z" /><path class="fb" d="M518.0,492.4 L523.0,489.1 L524.2,489.6 L519.2,492.9 Z" /><circle cx="527.1" cy="487.3" r="0.9" class="fb"/><circle cx="516.6" cy="494.0" r="0.8" class="fb"/>
<path class="fw" d="M519.6,515.4 L519.6,518.4 L530.6,525.4 L546.1,525.2 L585.1,502.4 L585.1,499.4 L546.1,522.2 L530.6,522.4 Z" /><path class="fw" d="M519.6,515.4 L523.1,508.9 L558.1,487.9 L574.6,485.9 L585.1,492.9 L585.1,499.4 L546.1,522.2 L530.6,522.4 Z" /><path class="lt" d="M521.6,514.1 L524.9,508.4 L557.8,489.9 L573.3,488.1 L583.2,494.3 L583.2,500.0 L546.5,520.1 L531.9,520.2 Z" style="stroke:#aaa;stroke-width:0.6"/><path class="fw" d="M536.7,510.2 L541.3,507.1 L542.9,507.8 L538.3,510.9 Z" /><path class="fw" d="M560.7,497.2 L565.3,494.1 L566.9,494.8 L562.3,497.9 Z" /><path class="fw" d="M545.2,507.1 L556.0,499.8 L558.2,500.7 L547.4,508.0 Z" /><path class="fb" d="M547.6,505.8 L552.6,502.5 L553.8,503.0 L548.8,506.3 Z" /><circle cx="556.7" cy="500.7" r="0.9" class="fb"/><circle cx="546.2" cy="507.4" r="0.8" class="fb"/>
<path class="fw" d="M541.0,530.5 L541.0,533.5 L552.0,540.5 L567.5,540.3 L606.5,517.5 L606.5,514.5 L567.5,537.3 L552.0,537.5 Z" /><path class="fw" d="M541.0,530.5 L544.5,524.0 L579.5,503.0 L596.0,501.0 L606.5,508.0 L606.5,514.5 L567.5,537.3 L552.0,537.5 Z" /><path class="lt" d="M543.0,529.2 L546.3,523.5 L579.2,505.0 L594.7,503.2 L604.6,509.4 L604.6,515.1 L567.9,535.2 L553.3,535.3 Z" style="stroke:#aaa;stroke-width:0.6"/><path class="fw" d="M558.1,525.3 L562.7,522.2 L564.3,522.9 L559.7,526.0 Z" /><path class="fw" d="M582.1,512.3 L586.7,509.2 L588.3,509.9 L583.7,513.0 Z" /><path class="fw" d="M566.6,522.2 L577.4,514.9 L579.6,515.8 L568.8,523.1 Z" /><path class="fb" d="M569.0,520.9 L574.0,517.6 L575.2,518.1 L570.2,521.4 Z" /><circle cx="578.1" cy="515.8" r="0.9" class="fb"/><circle cx="567.6" cy="522.5" r="0.8" class="fb"/>
<path class="th" d="M573.3,536.5 L573.3,549.0" />
<circle cx="573.3" cy="549.8" r="1.4" class="fb"/>
<ellipse cx="587.5" cy="435.2" rx="31.8" ry="18.6" class="fw"/>
<ellipse cx="587.3" cy="433" rx="31.8" ry="18.8" class="fw"/>
<path class="ln" d="M581.0,431.0 L584.0,428.5 L592.0,428.5 L595.0,431.0 L588.0,436.0 Z" style="fill:#bbb;stroke:#222;stroke-width:1.3"/>
<path class="lt" d="M585.0,430.5 L590.0,433.0 L591.0,430.0" />
<path class="th" d="M588.0,453.8 L588.0,467.0" />
<circle cx="588" cy="468" r="1.3" class="fb"/>
<ellipse cx="643" cy="466" rx="43" ry="24.5" fill="#fff" stroke="#333" stroke-width="1.1"/>
<ellipse cx="643" cy="464.5" rx="40.5" ry="22" fill="#9a9a9a" stroke="#333" stroke-width="0.9"/>
<ellipse cx="643" cy="465.5" rx="33" ry="17.5" fill="none" stroke="#6e6e6e" stroke-width="9" stroke-dasharray="9 5 4 6 12 4"/>
<ellipse cx="643" cy="465.5" rx="36.5" ry="19.5" fill="none" stroke="#666" stroke-width="0.8"/>
<ellipse cx="642.5" cy="470" rx="25.5" ry="13.5" fill="#bdbdbd" stroke="#333" stroke-width="1"/>
<ellipse cx="642.5" cy="471.5" rx="21" ry="10" fill="#d5d5d5" stroke="#555" stroke-width="0.8"/>
<ellipse cx="642.5" cy="474" rx="13" ry="5.5" fill="#999" stroke="#555" stroke-width="0.6"/>
<rect x="598.5" y="458" width="4" height="7" rx="1.2" fill="#fff" stroke="#333" stroke-width="0.8"/>
<rect x="683.5" y="463" width="4" height="8" rx="1.2" fill="#fff" stroke="#333" stroke-width="0.8"/>
<rect x="668" y="481" width="5" height="4" rx="1.2" fill="#fff" stroke="#333" stroke-width="0.8"/>
<rect x="640" y="487.5" width="6" height="4" rx="1.2" fill="#fff" stroke="#333" stroke-width="0.8"/>
<path class="th" d="M643.0,491.0 L643.0,506.0" />
<circle cx="643.3" cy="507" r="1.4" class="fb"/>
<ellipse cx="644.6" cy="442.3" rx="42.5" ry="23.2" class="fw" transform="rotate(2 644.6 442.3)"/>
<ellipse cx="644.4" cy="440.3" rx="42.5" ry="23.4" class="fw" transform="rotate(2 644.4 440.3)"/>
<ellipse cx="643.8" cy="441.3" rx="5" ry="2.6" fill="#333" stroke="#222" stroke-width="0.6"/>
<ellipse cx="643.8" cy="440.5" rx="3" ry="1" fill="#999"/>
<ellipse cx="668" cy="441.5" rx="2.5" ry="1.3" class="ln"/>
<rect x="338.2" y="391.5" width="22.5" height="54.6" class="fw" style="stroke-width:1"/>
<path class="fw" d="M344.3,409 L344.3,403 Q344.5,396.5 349.3,396.3 Q354.2,396.5 354.3,403 L354.3,409 Z" style="stroke-width:0.9"/>
<path d="M345.5,403.5 L353,403.5" stroke="#999" stroke-width="0.6"/>
<path d="M343.8,409 L354.8,409 L354.3,413.5 L352,415.5 L346.5,415.5 L344.3,413.5 Z" fill="#444" stroke="#222" stroke-width="0.6"/>
<rect x="347.5" y="408.5" width="3.6" height="6" fill="#fff"/>
<rect x="344.9" y="420" width="8.9" height="21.5" rx="3.5" fill="#555"/>
<ellipse cx="349.35" cy="422.5" rx="4.2" ry="1.9" fill="#fff" stroke="#1a1a1a" stroke-width="1.3"/>
<ellipse cx="349.35" cy="425.9" rx="4.2" ry="1.9" fill="#fff" stroke="#1a1a1a" stroke-width="1.3"/>
<ellipse cx="349.35" cy="429.3" rx="4.2" ry="1.9" fill="#fff" stroke="#1a1a1a" stroke-width="1.3"/>
<ellipse cx="349.35" cy="432.7" rx="4.2" ry="1.9" fill="#fff" stroke="#1a1a1a" stroke-width="1.3"/>
<ellipse cx="349.35" cy="436.1" rx="4.2" ry="1.9" fill="#fff" stroke="#1a1a1a" stroke-width="1.3"/>
<ellipse cx="349.35" cy="439.5" rx="4.2" ry="1.9" fill="#fff" stroke="#1a1a1a" stroke-width="1.3"/>
<path d="M345,422.5 L345,439.5 M353.7,422.5 L353.7,439.5" stroke="#1a1a1a" stroke-width="1.2"/>
<path d="M77.5,543.8 L79.0,543.3 L87.0,548.3 L86.5,550.3 L78.0,545.8 Z" fill="#fff" stroke="#333" stroke-width="0.9"/><path d="M79.0,545.0999999999999 L85.0,548.5999999999999" stroke="#222" stroke-width="1.2"/>
<path d="M84.6,552.3 L89,555.5" stroke="#333" stroke-width="1.6"/><path d="M88,549.3 L92,548.8 L94.5,551 L94.5,557.6 L91,556.2 L88,554.2 Z" fill="#fff" stroke="#333" stroke-width="1"/><path d="M92,549.3 L94,551 L94,553" stroke="#111" stroke-width="1.6" fill="none"/><path d="M88.6,552 L88.6,554.5 L91,556" stroke="#222" stroke-width="1.1" fill="none"/>
<path d="M164.1,598.8 L168.5,602.0" stroke="#333" stroke-width="1.6"/><path d="M167.5,595.8 L171.5,595.3 L174.0,597.5 L174.0,604.1 L170.5,602.7 L167.5,600.7 Z" fill="#fff" stroke="#333" stroke-width="1"/><path d="M171.5,595.8 L173.5,597.5 L173.5,599.5" stroke="#111" stroke-width="1.6" fill="none"/><path d="M168.1,598.5 L168.1,601.0 L170.5,602.5" stroke="#222" stroke-width="1.1" fill="none"/>
<path d="M176.5,601 Q176.8,599.3 178.8,600.2 L185.5,604.2 Q186.8,606.8 184.6,607.5 L178.2,603.8 Z" fill="#fff" stroke="#333" stroke-width="1"/>
<path d="M178.5,601.6 L184,605" stroke="#777" stroke-width="0.8"/>
<path d="M344.1,496.3 L348.5,499.5" stroke="#333" stroke-width="1.6"/><path d="M347.5,493.3 L351.5,492.8 L354.0,495 L354.0,501.6 L350.5,500.2 L347.5,498.2 Z" fill="#fff" stroke="#333" stroke-width="1"/><path d="M351.5,493.3 L353.5,495 L353.5,497" stroke="#111" stroke-width="1.6" fill="none"/><path d="M348.1,496 L348.1,498.5 L350.5,500" stroke="#222" stroke-width="1.1" fill="none"/>
<path d="M353.5,499 L359.5,502 L361.5,505.5 L359.5,506.5 L355,504 L353,500.5 Z" fill="#fff" stroke="#333" stroke-width="1.1"/>
<path d="M355.5,501 L357.5,504" stroke="#333" stroke-width="0.9"/>
<path d="M741.8,176.8 L749.3,176.8 L754.8,186.5 L749.3,196.3 L741.8,196.3" fill="none" stroke="#555" stroke-width="0.9"/>
<path d="M741.8,178.2 L748.5,178.2" stroke="#777" stroke-width="0.6"/>
<path d="M741.8,181 A5.6,5.6 0 0 1 741.8,192" fill="none" stroke="#888" stroke-width="0.8"/>
<path d="M759.8,202.5 L759.8,190 Q756,187.5 756.2,183 Q756.5,180.5 757.6,179.5 L759.8,182.5 Q761,184.5 763,183.5 L764.5,181.5 L762.3,178.4 Q764.5,177.6 766.2,178.8 Q768.6,181 768.3,184.5 Q767.8,188 765.3,190 L765.3,202.5 Z" fill="#111"/>
<path d="M744.0,223 L751.5999999999999,223 L749.4,226.5 L746.1999999999999,226.5 Z" fill="#fff" stroke="#333" stroke-width="0.8"/><path d="M745.3,224 Q747.8,225.5 750.3,224" fill="none" stroke="#333" stroke-width="0.8"/><path d="M746.1999999999999,226.5 L746.1999999999999,243.3 Q747.8,246.8 749.4,243.3 L749.4,226.5" fill="#fff" stroke="#333" stroke-width="0.8"/><path d="M746.0999999999999,234.65 L746.0999999999999,243.3 Q747.8,246.8 749.5,243.3 L749.5,234.65 Z" fill="#333"/>
<path d="M759.2,223 L766.8,223 L764.6,226.5 L761.4,226.5 Z" fill="#fff" stroke="#333" stroke-width="0.8"/><path d="M760.5,224 Q763,225.5 765.5,224" fill="none" stroke="#333" stroke-width="0.8"/><path d="M761.4,226.5 L761.4,243.3 Q763,246.8 764.6,243.3 L764.6,226.5" fill="#fff" stroke="#333" stroke-width="0.8"/><path d="M761.3,234.65 L761.3,243.3 Q763,246.8 764.7,243.3 L764.7,234.65 Z" fill="#333"/>
<path d="M751.5,246.6 L759.0999999999999,246.6 L756.9,243.1 L753.6999999999999,243.1 Z" fill="#fff" stroke="#333" stroke-width="0.8"/><path d="M752.8,246.29999999999998 Q755.3,244.1 757.8,246.29999999999998" fill="none" stroke="#333" stroke-width="0.8"/><path d="M753.6999999999999,243.1 L753.6999999999999,226.5 Q755.3,223.0 756.9,226.5 L756.9,243.1" fill="#fff" stroke="#333" stroke-width="0.8"/><path d="M753.5999999999999,236.05 L753.5999999999999,226.5 Q755.3,223.0 757.0,226.5 L757.0,236.05 Z" fill="#333"/>
<path d="M752.3,267.2 L752.3,274.2 L754.8,283.3 L757.6,274.2 L757.6,267.2" fill="#fff" stroke="#444" stroke-width="0.9"/>
<path d="M752.3,274.2 L757.6,274.2" stroke="#444" stroke-width="0.8"/>
<path d="M748.2,281.4 L762.6,281.4 L759.4,288.3 L751.3,288.3 Z" fill="#fff" stroke="#333" stroke-width="0.9"/>
<path d="M752.4,281.6 Q754.8,285 757.2,281.6" fill="#333"/>
<path d="M752.6,288.3 L752.6,294 L758,294 L758,288.3" fill="#fff" stroke="#333" stroke-width="0.9"/>
<path d="M753,290.3 L757.6,290.3 M753,292.2 L757.6,292.2" stroke="#555" stroke-width="0.8"/>
</svg></body></html>
